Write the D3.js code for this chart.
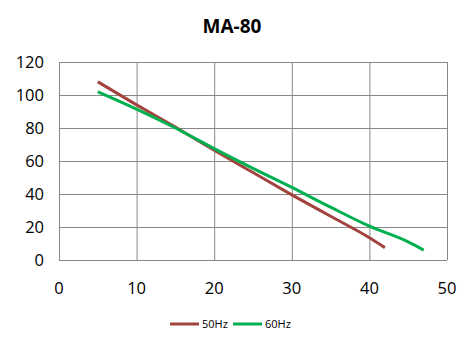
<!DOCTYPE html>
<html>
<head>
<meta charset="utf-8">
<script src="https://cdn.jsdelivr.net/npm/d3@7"></script>
<style>
  body { margin: 0; background: #fff; }
  text { font-family: "Open Sans", "DejaVu Sans", sans-serif; }
</style>
</head>
<body>
<script>
var w = 464;
var h = 345;

// flow (x) vs pressure (y) readings
var flow50 = [5, 10, 15, 20, 25, 30, 35, 40, 42];
var pres50 = [108, 94, 80.5, 66.5, 53, 39.5, 26.5, 13.5, 7.5];
var flow60 = [5, 10, 15, 20, 25, 30, 35, 40, 45, 47];
var pres60 = [102, 91.5, 80, 67.5, 55.5, 44, 32, 20.5, 11, 6];

var seriesNames = ["50Hz", "60Hz"];
var seriesColors = ["#A3433D", "#00B050"];
var xTicks = [0, 10, 20, 30, 40, 50];
var yTicks = [0, 20, 40, 60, 80, 100, 120];

var margin = {left: 59, right: 17, top: 62, bottom: 85};

var x = d3.scaleLinear().domain([0, 50]).range([margin.left, w - margin.right]);
var y = d3.scaleLinear().domain([0, 120]).range([h - margin.bottom, margin.top]);

var svg = d3.select("body")
            .append("svg")
            .attr("width", w)
            .attr("height", h);

//Title
svg.append("text")
   .attr("x", 232)
   .attr("y", 33)
   .attr("text-anchor", "middle")
   .style("font-size", "19px")
   .style("font-weight", "bold")
   .text("MA-80");

//Grid lines
svg.selectAll(".vgrid")
   .data(xTicks)
   .enter()
   .append("line")
   .attr("x1", function(d) { return x(d) + 0.5; })
   .attr("x2", function(d) { return x(d) + 0.5; })
   .attr("y1", y(0))
   .attr("y2", y(120))
   .style("stroke", "#888")
   .style("stroke-width", 1);

svg.selectAll(".hgrid")
   .data(yTicks)
   .enter()
   .append("line")
   .attr("x1", x(0))
   .attr("x2", x(50))
   .attr("y1", function(d) { return y(d) + 0.5; })
   .attr("y2", function(d) { return y(d) + 0.5; })
   .style("stroke", "#888")
   .style("stroke-width", 1);

//Axis labels
svg.selectAll(".ylab")
   .data(yTicks)
   .enter()
   .append("text")
   .attr("x", 44)
   .attr("y", function(d) { return y(d) + 6; })
   .attr("text-anchor", "end")
   .style("font-size", "16.5px")
   .text(function(d) { return d; });

svg.selectAll(".xlab")
   .data(xTicks)
   .enter()
   .append("text")
   .attr("x", function(d) { return x(d); })
   .attr("y", 294)
   .attr("text-anchor", "middle")
   .style("font-size", "16.5px")
   .text(function(d) { return d; });

//Series lines
var line = d3.line()
             .x(function(d) { return x(d[0]); })
             .y(function(d) { return y(d[1]); })
             .curve(d3.curveMonotoneX);

var series = [d3.zip(flow50, pres50), d3.zip(flow60, pres60)];

svg.selectAll(".series")
   .data(series)
   .enter()
   .append("path")
   .attr("d", line)
   .style("fill", "none")
   .style("stroke", function(d, i) { return seriesColors[i]; })
   .style("stroke-width", 3);

//Legend
var legend = svg.selectAll(".legend")
                .data(seriesNames)
                .enter()
                .append("g")
                .attr("transform", function(d, i) { return "translate(" + (170 + i * 63) + ",324)"; });

legend.append("line")
      .attr("x1", 0)
      .attr("x2", 29)
      .style("stroke", function(d, i) { return seriesColors[i]; })
      .style("stroke-width", 3);

legend.append("text")
      .attr("x", 32)
      .attr("y", 4)
      .style("font-size", "11px")
      .text(function(d) { return d; });
</script>
</body>
</html>
